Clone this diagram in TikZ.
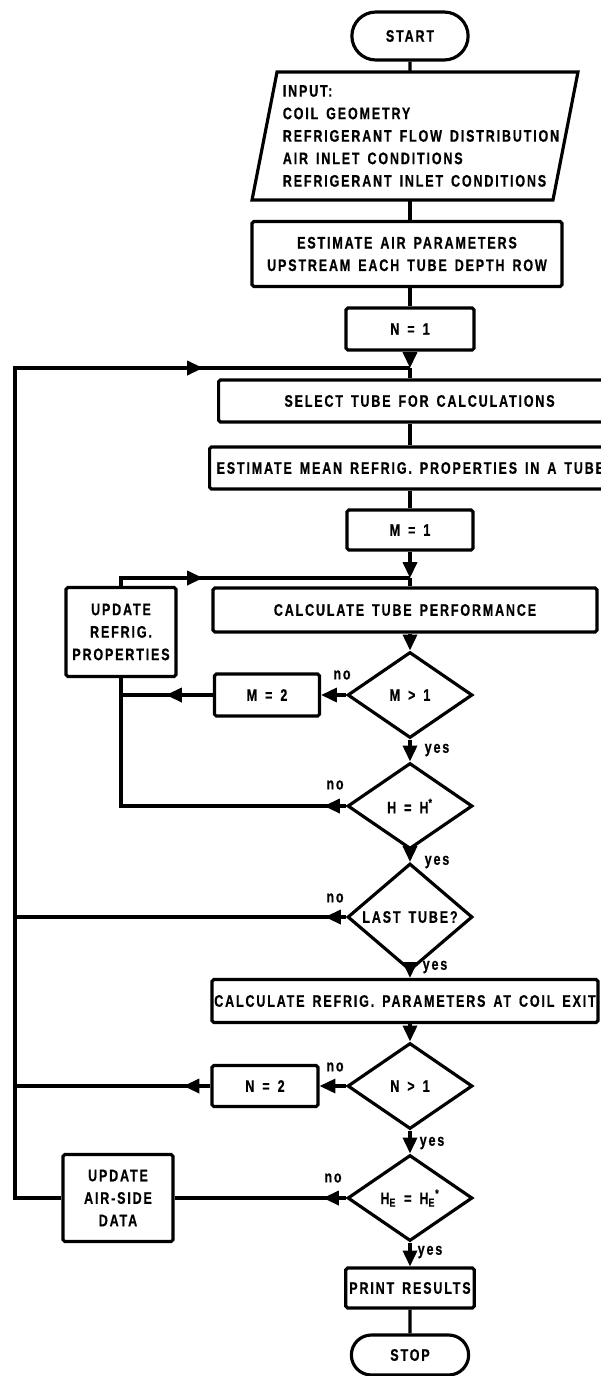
\documentclass[tikz,border=0pt]{standalone}
\usepackage{fontspec}
\setmainfont{Liberation Sans}[FakeStretch=0.75, LetterSpace=11, WordSpace=1.5, FakeBold=0.6]
\usepackage{tikz}
\usetikzlibrary{shapes.geometric, shapes.misc, arrows.meta, decorations.markings, calc}

\begin{document}
\begin{tikzpicture}[
  x=0.02cm, y=-0.02cm,
  line width=1.8pt,
  every node/.style={font=\fontsize{9.5}{12.8}\selectfont\bfseries},
  box/.style={draw, rectangle, rounded corners=1pt, align=center, inner sep=2pt, minimum height=0.84cm},
  term/.style={draw, rounded rectangle, minimum width=2.56cm, minimum height=0.84cm},
  decision/.style={draw, diamond, inner sep=0pt, minimum width=2.5cm, minimum height=1.72cm},
  lbl/.style={font=\fontsize{9.5}{10}\selectfont\bfseries},
  flow/.style={-{Triangle[length=9pt,width=8pt]}},
  arrowat/.style={decoration={markings, mark=at position #1 with {\arrow{Triangle[length=9pt,width=8pt]}}}, postaction={decorate}}
]
  \useasboundingbox (0,0) rectangle (601,1376);

  % Main column
  \node[term, minimum height=0.96cm] (start) at (410,36) {START};
  \node[inner sep=0pt, outer sep=0pt, minimum width=6.52cm, minimum height=2.56cm, align=left] (input) at (421,136) {INPUT:\\COIL GEOMETRY\\REFRIGERANT FLOW DISTRIBUTION\\AIR INLET CONDITIONS\\REFRIGERANT INLET CONDITIONS};
  \draw ($(input.south west)+(-6,0)$) -- ($(input.north west)+(19,0)$) -- ($(input.north east)+(-6,0)$) -- ($(input.south east)+(-31,0)$) -- cycle;
  \node[box, minimum width=6.2cm, minimum height=1.3cm] (estair) at (407,254) {ESTIMATE AIR PARAMETERS\\UPSTREAM EACH TUBE DEPTH ROW};
  \node[box, minimum width=2.56cm] (n1) at (410,329) {N = 1};
  \coordinate (j1) at (410,368);
  \node[box, minimum width=8.04cm, anchor=west] (select) at (217,401) {SELECT TUBE FOR CALCULATIONS};
  \node[box, inner xsep=4pt, anchor=west] (estmean) at (208,468) {ESTIMATE MEAN REFRIG. PROPERTIES IN A TUBE};
  \node[box, minimum width=2.52cm, minimum height=0.8cm] (m1) at (410,530) {M = 1};
  \coordinate (j2) at (410,578);
  \node[box, minimum width=7.68cm, minimum height=0.88cm] (calctube) at (405,610) {CALCULATE TUBE PERFORMANCE};
  \node[decision] (mgt) at (410,695) {M > 1};
  \node[decision] (heq) at (410,806) {H = H\textsuperscript{*}};
  \node[decision] (last) at (410,917) {LAST TUBE?};
  \node[box, minimum width=7.72cm, minimum height=0.86cm, inner xsep=1pt] (calcref) at (405,1001) {CALCULATE REFRIG. PARAMETERS AT COIL EXIT};
  \node[decision] (ngt) at (410,1086) {N > 1};
  \node[decision] (he) at (410,1198) {H\textsubscript{E} = H\textsubscript{E}\textsuperscript{*}};
  \node[box, minimum width=2.54cm, minimum height=0.8cm] (print) at (410,1288) {PRINT RESULTS};
  \node[term, minimum width=2.58cm, minimum height=0.8cm] (stop) at (410,1355) {STOP};

  % Side boxes
  \node[box, minimum width=2.2cm, minimum height=1.78cm] (updref) at (121,632) {UPDATE\\REFRIG.\\PROPERTIES};
  \node[box, minimum width=2.1cm] (m2) at (267,695) {M = 2};
  \node[box, minimum width=2.12cm, minimum height=0.82cm] (n2) at (265,1086) {N = 2};
  \node[box, minimum width=2.2cm, minimum height=1.74cm] (updair) at (118,1198) {UPDATE\\AIR-SIDE\\DATA};

  % Outer loop corners
  \coordinate (ltop) at (15,368);
  \coordinate (lbot) at (15,1198);

  % Main flow
  \draw (start) -- (start |- input.north);
  \draw (start |- input.south) -- (start |- estair.north);
  \draw (start |- estair.south) -- (n1);
  \draw[flow] (n1) -- (j1);
  \draw (j1) -- (j1 |- select.north);
  \draw (j1 |- select.south) -- (j1 |- estmean.north);
  \draw (j1 |- estmean.south) -- (m1);
  \draw[flow] (m1) -- (j2);
  \draw (j2) -- (j2 |- calctube.north);
  \draw[flow] (j2 |- calctube.south) -- (mgt);
  \draw[flow] (mgt) -- (heq);
  \draw[flow] (heq) -- (last);
  \draw[flow] (last) -- (last |- calcref.north);
  \draw[flow] (last |- calcref.south) -- (ngt);
  \draw[flow] (ngt) -- (he);
  \draw[flow] (he) -- (print);
  \draw (print) -- (stop);

  % Inner loop
  \draw[flow] (mgt.west) -- (m2.east);
  \draw[arrowat=0.94cm] (m2.west) -- (m2.west -| updref.south);
  \draw[arrowat=0.44cm] (heq.west) -- (heq.west -| updref.south) -- (updref.south);
  \draw[arrowat=-4.14cm] (updref.north) -- (updref.north |- j2) -- (j2);

  % Outer loop
  \draw[arrowat=0.42cm] (last.west) -- (last.west -| ltop);
  \draw[flow] (ngt.west) -- (n2.east);
  \draw[arrowat=0.54cm] (n2.west) -- (n2.west -| ltop);
  \draw[arrowat=0.46cm] (he.west) -- (updair.east);
  \draw[arrowat=-4.14cm] (updair.west) -- (lbot) -- (ltop) -- (j1);

  % Branch labels
  \node[lbl] (no1) at (342,675) {no};
  \node[lbl] (yes1) at (437,750) {yes};
  \node[lbl] (no2) at (335,785) {no};
  \node[lbl] (yes2) at (437,862) {yes};
  \node[lbl] (no3) at (335,898) {no};
  \node[lbl] (yes3) at (435,967) {yes};
  \node[lbl] (no4) at (335,1067) {no};
  \node[lbl] (yes4) at (432,1143) {yes};
  \node[lbl] (no5) at (333,1178) {no};
  \node[lbl] (yes5) at (430,1252) {yes};
\end{tikzpicture}
\end{document}
